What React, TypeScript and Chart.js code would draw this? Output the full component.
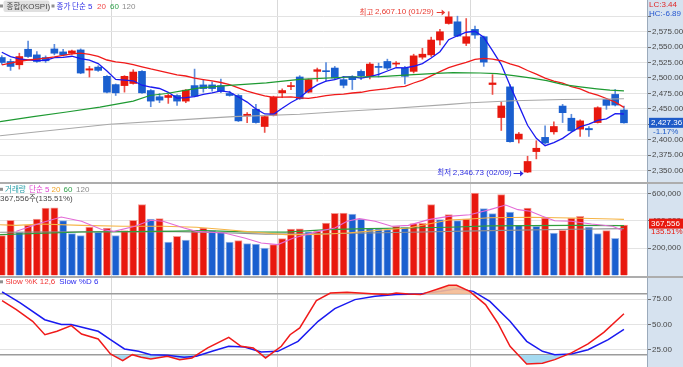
import React, { useEffect, useRef } from 'react';
import { Chart, registerables } from 'chart.js';

Chart.register(...registerables);

// ===================== DATA (KOSPI daily, 2017-11-14 .. 2018-02-28) =====================
const opens = [2533.0, 2526.6, 2521.3, 2546.4, 2537.3, 2533.0, 2546.9, 2542.1, 2540.0, 2545.3,
  2512.7, 2517.5, 2502.6, 2489.2, 2487.6, 2491.0, 2510.6, 2479.6, 2469.5, 2468.4,
  2471.6, 2462.5, 2487.6, 2488.7, 2488.7, 2487.6, 2474.8, 2471.6, 2438.6, 2449.2,
  2421.4, 2439.5, 2475.9, 2486.0, 2501.5, 2477.0, 2510.6, 2511.7, 2516.0, 2497.2,
  2501.5, 2510.6, 2502.6, 2518.6, 2526.6, 2522.4, 2515.9, 2510.6, 2533.6, 2537.3,
  2561.3, 2588.1, 2590.8, 2556.0, 2578.5, 2566.7, 2489.3, 2435.9, 2485.5, 2401.1,
  2347.7, 2380.8, 2403.8, 2412.8, 2454.5, 2434.8, 2417.1, 2418.2, 2427.8, 2465.2,
  2473.3, 2448.1];
const highs = [2536.0, 2530.4, 2540.0, 2559.7, 2542.7, 2535.7, 2554.4, 2546.4, 2545.0, 2547.0,
  2518.6, 2519.7, 2503.7, 2490.3, 2503.7, 2513.3, 2511.7, 2481.2, 2474.8, 2473.7,
  2473.2, 2481.2, 2514.3, 2497.2, 2493.5, 2498.3, 2478.5, 2473.2, 2443.8, 2457.2,
  2438.5, 2470.5, 2482.3, 2493.0, 2503.7, 2498.3, 2516.0, 2525.0, 2518.6, 2502.6,
  2503.7, 2513.3, 2525.0, 2524.0, 2530.4, 2526.6, 2518.6, 2538.4, 2548.0, 2566.0,
  2578.5, 2607.1, 2599.9, 2596.1, 2583.8, 2567.8, 2505.3, 2461.0, 2489.3, 2411.8,
  2373.3, 2398.4, 2422.5, 2429.0, 2457.2, 2441.2, 2432.0, 2421.4, 2453.4, 2467.0,
  2481.3, 2454.6];
const lows = [2522.0, 2512.2, 2514.3, 2533.0, 2525.0, 2525.0, 2537.3, 2535.7, 2538.0, 2506.8,
  2501.5, 2510.6, 2475.9, 2471.6, 2477.0, 2490.0, 2474.8, 2453.4, 2459.9, 2458.8,
  2455.6, 2459.9, 2469.5, 2476.9, 2478.5, 2476.0, 2470.5, 2429.4, 2427.8, 2426.7,
  2411.8, 2438.5, 2468.0, 2481.2, 2465.2, 2475.9, 2494.6, 2494.6, 2497.2, 2483.9,
  2481.2, 2497.2, 2498.3, 2501.5, 2513.3, 2518.6, 2490.3, 2508.0, 2530.4, 2534.6,
  2553.4, 2587.0, 2566.7, 2552.3, 2564.0, 2518.7, 2473.3, 2415.0, 2396.0, 2394.7,
  2346.73, 2369.0, 2393.0, 2409.0, 2427.8, 2413.0, 2405.4, 2405.4, 2427.0, 2449.2,
  2454.6, 2426.7];
const closes = [2525.0, 2518.6, 2534.6, 2534.6, 2526.6, 2527.7, 2540.0, 2537.3, 2543.7, 2507.9,
  2514.8, 2512.2, 2476.9, 2475.9, 2502.6, 2509.5, 2475.9, 2462.5, 2464.1, 2471.6,
  2462.5, 2480.1, 2470.5, 2482.8, 2482.8, 2478.5, 2471.6, 2430.5, 2441.2, 2427.8,
  2437.4, 2468.9, 2479.6, 2487.6, 2466.3, 2497.2, 2513.3, 2510.1, 2499.9, 2488.1,
  2497.2, 2503.7, 2522.4, 2517.0, 2515.9, 2523.5, 2502.6, 2535.7, 2538.4, 2561.3,
  2574.7, 2598.8, 2567.8, 2566.7, 2569.4, 2525.6, 2491.9, 2454.6, 2396.8, 2409.1,
  2364.8, 2386.2, 2394.7, 2421.4, 2443.8, 2414.4, 2430.5, 2416.1, 2451.8, 2455.6,
  2456.1, 2427.36];
const ma5 = [2541.6, 2534.6, 2530.9, 2529.3, 2527.9, 2528.4, 2532.7, 2533.2, 2535.1, 2531.3,
  2528.7, 2523.2, 2511.1, 2497.5, 2496.5, 2495.4, 2488.2, 2485.3, 2482.9, 2476.7,
  2467.3, 2468.2, 2469.8, 2473.5, 2475.7, 2478.9, 2477.2, 2469.2, 2460.9, 2449.9,
  2441.7, 2441.2, 2451.0, 2460.3, 2468.0, 2479.9, 2488.8, 2494.9, 2497.4, 2501.7,
  2501.7, 2499.8, 2502.3, 2505.7, 2511.2, 2516.5, 2516.3, 2518.9, 2523.2, 2532.3,
  2542.5, 2561.8, 2568.2, 2573.9, 2575.5, 2565.7, 2544.3, 2521.6, 2487.7, 2455.6,
  2423.4, 2402.3, 2390.3, 2395.2, 2402.2, 2412.1, 2421.0, 2425.2, 2431.3, 2433.7,
  2442.1, 2441.6];
const ma20 = [2521.0, 2524.0, 2527.0, 2529.0, 2530.5, 2532.0, 2534.0, 2536.5, 2539.0, 2540.0,
  2538.0, 2535.0, 2529.0, 2526.0, 2524.5, 2521.5, 2518.0, 2514.5, 2511.5, 2508.1,
  2505.0, 2503.1, 2499.8, 2497.3, 2495.1, 2492.6, 2489.2, 2483.8, 2478.7, 2474.7,
  2470.8, 2468.7, 2468.8, 2469.4, 2467.6, 2467.0, 2468.8, 2471.2, 2473.0, 2473.8,
  2475.6, 2476.8, 2479.3, 2481.1, 2482.7, 2485.0, 2486.5, 2491.8, 2496.6, 2503.3,
  2510.2, 2516.7, 2521.1, 2525.0, 2530.2, 2531.6, 2530.5, 2527.8, 2522.6, 2518.7,
  2512.0, 2506.2, 2499.8, 2495.0, 2491.4, 2485.9, 2482.3, 2476.4, 2472.0, 2466.7,
  2460.9, 2452.3];
// [candle index, value]
const ma60 = [[-0.2, 2429.4], [3.6, 2437.4], [7.4, 2444.9], [11.2, 2452.9], [15, 2462.5], [16.9, 2471.6],
  [18.8, 2474.8], [20.7, 2479.6], [22.6, 2483.9], [24.9, 2486.6], [26.4, 2488.2], [30.2, 2491.9],
  [34, 2497.6], [39.7, 2501.5], [43.2, 2502.2], [47, 2505.5], [49.6, 2507.5], [51.5, 2508.5],
  [54.6, 2508.0], [56.5, 2507.0], [58.4, 2503.7], [60.3, 2500.0], [62.2, 2495.7], [64.1, 2489.3],
  [66, 2485.5], [67.9, 2482.3], [69.4, 2480.2], [71, 2479.0]];
const ma120 = [[-0.2, 2406.4], [12.3, 2425.1], [22.6, 2434.2], [26.4, 2437.4], [34, 2441.2],
  [39.7, 2446.5], [43.2, 2449.2], [51.1, 2457.2], [53.5, 2459.9], [58.4, 2463.0], [64, 2465.0],
  [69.4, 2466.0], [71, 2466.3]];

const volumes = [290600, 403000, 315000, 368700, 412700, 493300, 495000, 400500, 305300, 290600,
  354100, 315000, 346800, 290600, 327200, 403000, 517700, 411000, 415000, 244200,
  285700, 258900, 327200, 346800, 327200, 315000, 244200, 254000, 232000, 229500,
  200200, 224700, 268600, 339400, 341000, 318000, 322000, 383400, 454200, 456000,
  449300, 412700, 341900, 340000, 334600, 359000, 351600, 378500, 380000, 517700,
  407800, 444400, 400500, 412700, 603200, 488400, 451800, 591000, 464000, 366300,
  493300, 359000, 420000, 310000, 329700, 420000, 432200, 354000, 305300, 327200,
  271240, 367556];
const volMa5 = [[1.66, 322000], [4.45, 383000], [6.78, 427000], [9.1, 396000], [11.4, 335000], [12.8, 322000],
  [15.2, 359000], [17, 403000], [18.4, 396000], [20.8, 347000], [22.2, 322000], [25.4, 310000],
  [27.7, 273000], [29.6, 237000], [31.5, 225000], [33.3, 273000], [36.1, 322000], [38, 347000],
  [39.4, 396000], [40.8, 415000], [42.6, 396000], [44.5, 359000], [46.4, 366000], [48.7, 408000],
  [51, 432000], [53.4, 444000], [55.7, 481000], [57.5, 515000], [58.9, 481000], [60.3, 469000],
  [61.7, 432000], [63.1, 400000], [65, 396000], [67.3, 376000], [69.7, 360000], [70.8, 330000]];
const volMa20 = [[-0.2, 370000], [1.66, 366000], [4.45, 376000], [9.1, 366000], [13.8, 359000],
  [18.4, 359000], [22.2, 352000], [25.4, 335000], [27.7, 322000], [30.1, 310000], [32.4, 298000],
  [34.7, 298000], [37.1, 303000], [39.4, 310000], [41.7, 322000], [44, 335000], [46.4, 347000],
  [48.7, 376000], [51, 405000], [53.4, 413000], [55.7, 422000], [60.3, 425000], [65, 420000],
  [67.3, 416000], [69.7, 412000], [71, 410000]];
const volMa60 = [[-0.2, 298000], [9.1, 317000], [18.4, 322000], [23.1, 327000], [27.7, 318000],
  [32.4, 316000], [37.1, 335000], [41.7, 342000], [46.4, 347000], [51, 352000], [55.7, 362000],
  [60.3, 364000], [65, 366000], [71, 364000]];
const volMa120 = [[-0.2, 315000], [18.4, 322000], [25.4, 312000], [30.1, 302000], [37.1, 304000],
  [46.4, 315000], [55.7, 327000], [65, 337000], [71, 342000]];

const stochK = [[0.03, 73.4], [1.66, 64.6], [3.52, 53.1], [4.92, 40.0], [6.3, 43.3], [7.94, 48.9],
  [9.1, 40.7], [11.0, 35.8], [12.4, 21.1], [13.8, 14.6], [14.9, 20.4], [15.9, 17.8], [17.0, 16.2],
  [18.9, 18.8], [20.3, 15.5], [21.7, 17.2], [23.5, 27.0], [25.9, 37.4], [27.3, 28.6], [28.7, 27.0],
  [30.1, 17.2], [31.9, 28.6], [32.9, 40.0], [34.0, 46.6], [35.9, 73.4], [37.5, 80.9], [39.4, 81.5],
  [40.8, 80.9], [42.2, 80.2], [44.0, 79.3], [45.0, 80.9], [46.4, 79.9], [47.8, 79.3], [50.1, 85.8],
  [51.0, 88.4], [51.9, 88.4], [53.4, 82.5], [55.2, 69.5], [56.6, 51.5], [58.0, 28.6], [59.9, 11.3],
  [61.7, 11.9], [63.1, 15.5], [65.0, 22.1], [66.9, 30.9], [68.7, 42.3], [71, 60.5]];
const stochD = [[0.03, 81.9], [2.1, 71.1], [4.9, 54.7], [6.8, 49.9], [7.9, 49.9], [11.0, 43.3],
  [12.4, 35.1], [14.0, 26.0], [15.6, 23.7], [17.0, 20.4], [18.9, 19.8], [20.8, 17.8], [22.2, 18.8],
  [24.0, 23.7], [25.9, 28.6], [27.7, 28.0], [29.6, 23.1], [31.5, 23.7], [33.8, 33.5], [36.1, 53.1],
  [38.0, 65.5], [40.3, 74.4], [42.6, 77.6], [45.0, 79.3], [47.8, 79.9], [50.1, 82.5], [51.9, 85.1],
  [53.8, 82.5], [55.7, 72.7], [58.0, 53.1], [59.9, 33.5], [61.7, 23.7], [63.1, 20.4], [65.0, 21.1],
  [66.9, 25.3], [69.2, 35.1], [71, 45.3]];

const monthStarts = [13, 32, 54]; // first trading day of Dec, Jan, Feb
const priceTicks = [2350, 2375, 2400, 2425, 2450, 2475, 2500, 2525, 2550, 2575, 2600];
const volumeTicks = [200000, 400000, 600000];
const stochTicks = [20, 25, 50, 75, 80];
const highIdx = 51, highDate = '01/29';
const lowIdx = 60, lowDate = '02/09';
const changeText = '-1.17%';
const volRatioText = '135.51%';
const lcText = 'LC:3.44';
const hcText = 'HC:-6.89';

// ===================== STYLE =====================
const W = 683;
const AXIS_W = 36;
const X_MIN = -0.205, X_MAX = 73.63;
const RED = '#E8180E', BLUE = '#1A5FCF';
const RED_W = '#EC5048', BLUE_W = '#5C8CDC';
const AXIS_BG = '#D6E2EF';

function detectNarrow(): string | null {
  const ctx = document.createElement('canvas').getContext('2d')!;
  const s = 'abcdefghijklmnopqrstuvwxyz0123456789,.';
  ctx.font = '40px monospace';
  const base = ctx.measureText(s).width;
  for (const n of ['Liberation Sans Narrow', 'Arial Narrow']) {
    ctx.font = `40px "${n}", monospace`;
    if (Math.abs(ctx.measureText(s).width - base) > 0.5) return `"${n}"`;
  }
  return null;
}

type Run = [string, string, string];
function drawRuns(ctx: CanvasRenderingContext2D, runs: Run[], x: number, y: number, align: 'left' | 'right' = 'left'): number {
  ctx.save();
  ctx.textBaseline = 'middle';
  ctx.textAlign = 'left';
  let total = 0;
  for (const [t, f] of runs) { ctx.font = f; total += ctx.measureText(t).width; }
  let cx = align === 'right' ? x - total : x;
  for (const [t, f, c] of runs) {
    ctx.font = f; ctx.fillStyle = c; ctx.fillText(t, cx, y);
    cx += ctx.measureText(t).width;
  }
  ctx.restore();
  return cx;
}
function arrow(ctx: CanvasRenderingContext2D, x1: number, x2: number, y: number, c: string) {
  ctx.save();
  ctx.strokeStyle = c; ctx.fillStyle = c; ctx.lineWidth = 1;
  const yy = Math.round(y) + 0.5;
  ctx.beginPath(); ctx.moveTo(x1, yy); ctx.lineTo(x2 - 2, yy); ctx.stroke();
  ctx.beginPath(); ctx.moveTo(x2, yy); ctx.lineTo(x2 - 3.5, yy - 3);
  ctx.lineTo(x2 - 3.5, yy + 3); ctx.closePath(); ctx.fill();
  ctx.restore();
}
function square(ctx: CanvasRenderingContext2D, x: number, y: number) {
  ctx.save(); ctx.fillStyle = '#909090'; ctx.fillRect(x, y - 1.5, 3, 3); ctx.restore();
}
const fmt2 = (v: number) => v.toLocaleString('en-US', { minimumFractionDigits: 2, maximumFractionDigits: 2 });
const pts = (a: number[][]) => a.map(([x, y]) => ({ x, y }));

function xScale() {
  return {
    type: 'linear', min: X_MIN, max: X_MAX, offset: false,
    afterBuildTicks: (s: any) => { s.ticks = monthStarts.map((i) => ({ value: i - 0.5 })); },
    afterFit: (s: any) => { s.height = 0; s.paddingLeft = 0; s.paddingRight = 0; },
    ticks: { display: false },
    grid: { color: '#D9D9D9', drawTicks: false, offset: false },
    border: { display: false },
  };
}
function yScale(min: number, max: number, ticks: number[], fmt: (v: number) => string, font: any, gridColor: any, lineWidth: any, tickColor: any) {
  return {
    type: 'linear', position: 'right', min, max,
    afterBuildTicks: (s: any) => { s.ticks = ticks.map((v) => ({ value: v })); },
    afterFit: (s: any) => { s.width = AXIS_W; s.paddingTop = 0; s.paddingBottom = 0; },
    ticks: { autoSkip: false, padding: 1, color: '#474747', font, callback: (v: any) => fmt(Number(v)) },
    grid: { color: gridColor, lineWidth, tickColor, tickLength: 4, drawTicks: true },
    border: { display: true, color: '#9BAABB' },
  };
}
const bgPlugin = {
  id: 'bgPanel',
  beforeDraw(chart: any) {
    const { ctx, chartArea: a, width, height } = chart;
    ctx.save();
    ctx.fillStyle = '#FFFFFF'; ctx.fillRect(0, 0, width, height);
    ctx.fillStyle = AXIS_BG; ctx.fillRect(a.right, 0, width - a.right, height);
    ctx.restore();
  },
};
function baseOptions(y: any) {
  return {
    responsive: false, animation: false, events: [],
    layout: { padding: 0 },
    plugins: { legend: { display: false }, tooltip: { enabled: false } },
    scales: { x: xScale(), y },
  };
}
const line = (data: any[], color: string, width: number, order = 0) => ({
  type: 'line', data, borderColor: color, borderWidth: width, pointRadius: 0, tension: 0, fill: false, order,
});

export default function App() {
  const pRef = useRef<HTMLCanvasElement>(null);
  const vRef = useRef<HTMLCanvasElement>(null);
  const sRef = useRef<HTMLCanvasElement>(null);

  useEffect(() => {
    const narrow = detectNarrow();
    const LAT = narrow ?? '"Liberation Sans", Arial, sans-serif';
    const LSZ = narrow ? 9 : 8;
    const fL = `${LSZ}px ${LAT}`;
    const fK = '7.5px "Noto Sans CJK KR", sans-serif';
    const tickFont = { family: LAT, size: LSZ };
    const last = closes.length - 1;
    const up = (i: number) => closes[i] >= opens[i];
    const volUp = (i: number) => i === 0 || volumes[i] >= volumes[i - 1];

    // ---------- price ----------
    const priceTextPlugin = {
      id: 'priceText',
      afterDraw(chart: any) {
        const { ctx, chartArea: a, width } = chart;
        const xs = chart.scales.x, ys = chart.scales.y;
        square(ctx, 0, 6);
        ctx.save();
        ctx.fillStyle = '#E0E0E0';
        ctx.beginPath();
        if (ctx.roundRect) ctx.roundRect(3.5, 0.5, 46, 11.5, 2); else ctx.rect(3.5, 0.5, 46, 11.5);
        ctx.fill();
        ctx.restore();
        drawRuns(ctx, [['종합', fK, '#4A4A4A'], ['(KOSPI)', fL, '#4A4A4A']], 6.5, 6.5);
        square(ctx, 51.5, 6);
        drawRuns(ctx, [['종가 단순', fK, '#2E2EE6'], [' 5', fL, '#2E2EE6']], 56.5, 6.5);
        drawRuns(ctx, [['20', fL, '#F04848']], 97, 6.5);
        drawRuns(ctx, [['60', fL, '#2FA04A']], 110, 6.5);
        drawRuns(ctx, [['120', fL, '#8C8C8C']], 122, 6.5);

        const hx = xs.getPixelForValue(highIdx), hy = ys.getPixelForValue(highs[highIdx]);
        arrow(ctx, hx - 12, hx - 3.5, hy, '#E83A30');
        drawRuns(ctx, [['최고 ', fK, '#E83A30'], [`${fmt2(highs[highIdx])} (${highDate})`, fL, '#E83A30']], hx - 15, hy, 'right');
        const lx = xs.getPixelForValue(lowIdx), ly = ys.getPixelForValue(lows[lowIdx]);
        arrow(ctx, lx - 14, lx - 4, ly, '#2C2CE0');
        drawRuns(ctx, [['최저 ', fK, '#2C2CE0'], [`${fmt2(lows[lowIdx])} (${lowDate})`, fL, '#2C2CE0']], lx - 16, ly, 'right');

        drawRuns(ctx, [[lcText, fL, '#E02828']], a.right + 2, 5);
        drawRuns(ctx, [[hcText, fL, '#2456D0']], a.right + 2, 14);
        const cy = ys.getPixelForValue(closes[last]);
        ctx.save(); ctx.fillStyle = '#1E5BC8'; ctx.fillRect(a.right + 2, cy - 5, width - a.right - 2, 10); ctx.restore();
        drawRuns(ctx, [[fmt2(closes[last]), fL, '#FFFFFF']], a.right + 4, cy);
        drawRuns(ctx, [[changeText, fL, '#1E5BC8']], a.right + 6, cy + 8.5);
      },
    };
    const priceChart = new Chart(pRef.current!, {
      type: 'bar',
      data: {
        datasets: [
          line(pts(ma120), '#A8A8A8', 1.1),
          line(pts(ma60), '#1E9A32', 1.2),
          line(ma20.map((y, x) => ({ x, y })), '#F01A1A', 1.3),
          line(ma5.map((y, x) => ({ x, y })), '#1A1AF0', 1.3),
          {
            type: 'bar', order: 2, grouped: false, barThickness: 1,
            data: lows.map((l, i) => ({ x: i, y: [l, highs[i]] })),
            backgroundColor: lows.map((_, i) => (up(i) ? RED_W : BLUE_W)),
          },
          {
            type: 'bar', order: 1, grouped: false, barThickness: 7, minBarLength: 1,
            data: opens.map((o, i) => ({ x: i, y: [o, closes[i]] })),
            backgroundColor: opens.map((_, i) => (up(i) ? RED : BLUE)),
          },
        ],
      } as any,
      options: baseOptions(yScale(2331.6, 2626.1, priceTicks, (v) => (v >= 2600 ? '' : fmt2(v)), tickFont,
        '#E3E3E3', 1, '#6E6E6E')) as any,
      plugins: [bgPlugin, priceTextPlugin],
    });

    // ---------- volume ----------
    const volTextPlugin = {
      id: 'volText',
      afterDraw(chart: any) {
        const { ctx, chartArea: a, width } = chart;
        const ys = chart.scales.y;
        square(ctx, 0, 5.3);
        drawRuns(ctx, [['거래량', fK, '#2AA0AA']], 5, 5.3);
        drawRuns(ctx, [['단순', fK, '#E040D0'], [' 5', fL, '#E040D0']], 29, 5.3);
        drawRuns(ctx, [['20', fL, '#F0A428']], 51.5, 5.3);
        drawRuns(ctx, [['60', fL, '#2FA04A']], 63.5, 5.3);
        drawRuns(ctx, [['120', fL, '#8C8C8C']], 76, 5.3);
        drawRuns(ctx, [[volumes[last].toLocaleString('en-US'), fL, '#4A4A4A'], ['주', fK, '#4A4A4A'],
          [`(${volRatioText})`, fL, '#4A4A4A']], 0, 14.3);
        const cy = ys.getPixelForValue(volumes[last]) - 1.5;
        ctx.save(); ctx.fillStyle = '#E8180E'; ctx.fillRect(a.right + 2, cy - 5, width - a.right - 2, 10); ctx.restore();
        drawRuns(ctx, [[volumes[last].toLocaleString('en-US'), fL, '#FFFFFF']], a.right + 4, cy);
        drawRuns(ctx, [[volRatioText, fL, '#E8180E']], a.right + 4, cy + 8);
      },
    };
    const volChart = new Chart(vRef.current!, {
      type: 'bar',
      data: {
        datasets: [
          line(pts(volMa5), '#E36AD6', 1.1),
          line(pts(volMa20), '#F5B445', 1.1),
          line(pts(volMa60), '#2F9E3C', 1.1),
          line(pts(volMa120), '#8E8E8E', 1.1),
          {
            type: 'bar', order: 1, grouped: false, barThickness: 7.3,
            data: volumes.map((v, i) => ({ x: i, y: v })),
            backgroundColor: volumes.map((_, i) => (volUp(i) ? RED : BLUE)),
            borderColor: volumes.map((_, i) => (volUp(i) ? '#F29A94' : '#9DB8E8')),
            borderWidth: 1, borderSkipped: 'bottom',
          },
        ],
      } as any,
      options: baseOptions(yScale(-5100, 668900, volumeTicks, (v) => v.toLocaleString('en-US'), tickFont,
        '#E3E3E3', 1, '#6E6E6E')) as any,
      plugins: [bgPlugin, volTextPlugin],
    });

    // ---------- slow stochastic ----------
    const stTextPlugin = {
      id: 'stText',
      afterDraw(chart: any) {
        const { ctx } = chart;
        square(ctx, 0, 3.8);
        const end = drawRuns(ctx, [['Slow %K 12,6', fL, '#F03434']], 5.5, 3.8);
        drawRuns(ctx, [['Slow %D 6', fL, '#2A2AF0']], end + 4, 3.8);
      },
    };
    const isRef = (c: any) => c.tick && (c.tick.value === 20 || c.tick.value === 80);
    const stChart = new Chart(sRef.current!, {
      type: 'line',
      data: {
        datasets: [
          {
            data: pts(stochK), borderColor: '#F01A1A', borderWidth: 1.5, pointRadius: 0, tension: 0, order: 0,
            fill: { target: { value: 80 }, above: 'rgba(244,186,146,0.9)', below: 'rgba(0,0,0,0)' },
          },
          {
            data: pts(stochK), borderWidth: 0, borderColor: 'rgba(0,0,0,0)', pointRadius: 0, tension: 0, order: 2,
            fill: { target: { value: 20 }, above: 'rgba(0,0,0,0)', below: 'rgba(160,216,240,0.95)' },
          },
          { data: pts(stochD), borderColor: '#1A1AF0', borderWidth: 1.5, pointRadius: 0, tension: 0, fill: false, order: 1 },
        ],
      } as any,
      options: baseOptions(yScale(8.3, 95.6, stochTicks, (v) => (v === 20 || v === 80 ? '' : v.toFixed(2)), tickFont,
        (c: any) => (isRef(c) ? '#9C9C9C' : '#E3E3E3'),
        (c: any) => (isRef(c) ? 1.6 : 1),
        (c: any) => (isRef(c) ? 'rgba(0,0,0,0)' : '#6E6E6E'))) as any,
      plugins: [bgPlugin, stTextPlugin],
    });

    return () => { priceChart.destroy(); volChart.destroy(); stChart.destroy(); };
  }, []);

  const abs = (top: number, height: number): React.CSSProperties => ({ position: 'absolute', left: 0, top, width: W, height });
  return (
    <div style={{ position: 'absolute', left: 0, top: 0, width: W, height: 367, background: '#fff', overflow: 'hidden' }}>
      <canvas ref={pRef} width={W} height={182} style={abs(0, 182)} />
      <div style={{ ...abs(182, 2), background: '#ADADAD' }} />
      <canvas ref={vRef} width={W} height={92} style={abs(184, 92)} />
      <div style={{ ...abs(276, 2), background: '#ADADAD' }} />
      <canvas ref={sRef} width={W} height={89} style={abs(278, 89)} />
    </div>
  );
}
